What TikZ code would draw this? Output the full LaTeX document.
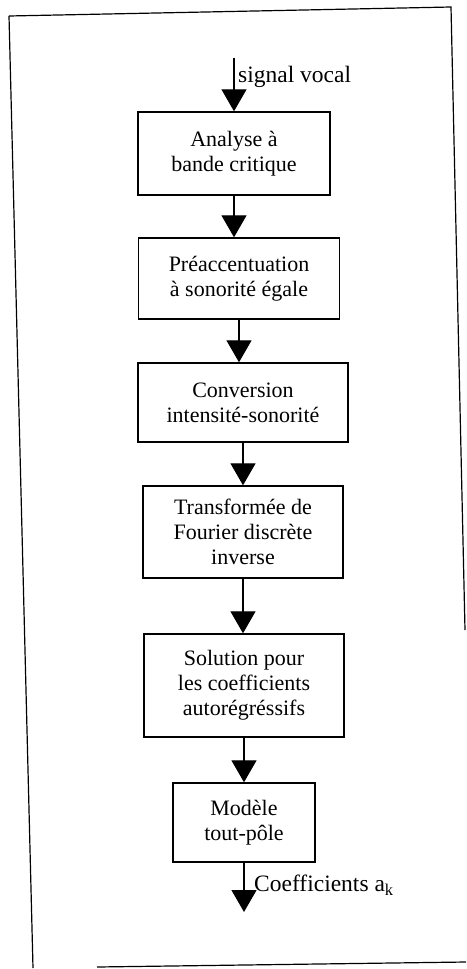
\documentclass[tikz,border=0pt]{standalone}
\usepackage{fontspec}
\setmainfont{Liberation Serif}
\usetikzlibrary{arrows.meta}
\begin{document}
\begin{tikzpicture}[x=1pt,y=-1pt,
  stepbox/.style={draw,line width=1.4pt,rectangle,inner sep=0pt,align=center,
    font=\fontsize{22}{25}\selectfont},
  arr/.style={line width=1.3pt,-{Triangle[width=25pt,length=22pt]}},
  lab/.style={anchor=west,inner sep=0pt,font=\fontsize{23.5}{26}\selectfont},
  frame/.style={line width=1.2pt}]
\useasboundingbox (0,0) rectangle (466,969);
% frame
\draw[frame] (9,16) -- (451,7) -- (465,630);
\draw[frame] (9,16) -- (33,968);
\draw[frame] (97,967) -- (466,962);
% boxes
\node[stepbox,minimum width=192pt,minimum height=83pt] (b1) at (234,153.5) {Analyse à\\bande critique};
\node[stepbox,minimum width=201pt,minimum height=81pt] (b2) at (239,278.5) {Préaccentuation\\à sonorité égale};
\node[stepbox,minimum width=210pt,minimum height=79pt] (b3) at (243,402.5) {Conversion\\intensité-sonorité};
\node[stepbox,minimum width=200pt,minimum height=92pt] (b4) at (243,532) {Transformée de\\Fourier discrète\\inverse};
\node[stepbox,minimum width=200pt,minimum height=103pt] (b5) at (244,685.5) {Solution pour\\les coefficients\\autorégréssifs};
\node[stepbox,minimum width=142pt,minimum height=79pt] (b6) at (244,822.5) {Modèle\\tout-pôle};
% free ends
\coordinate (in) at (234,58);
\coordinate (out) at (244,912);
% connectors
\draw[arr] (in) -- (b1.north);
\draw[arr] (b1.south) -- (b1.south |- b2.north);
\draw[arr] (b2.south) -- (b2.south |- b3.north);
\draw[arr] (b3.south) -- (b3.south |- b4.north);
\draw[arr] (b4.south) -- (b4.south |- b5.north);
\draw[arr] (b5.south) -- (b5.south |- b6.north);
\draw[arr] (b6.south) -- (out);
% labels
\node[lab] (l1) at (238,77) {signal vocal};
\node[lab] (l2) at (254,885) {Coefficients a\textsubscript{k}};
\end{tikzpicture}
\end{document}
